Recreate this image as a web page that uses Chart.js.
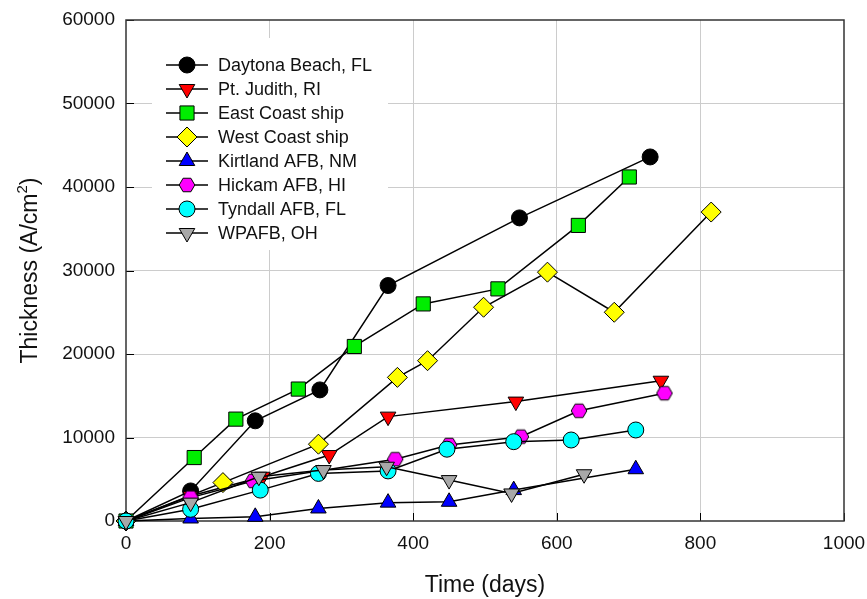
<!DOCTYPE html>
<html>
<head>
<meta charset="utf-8">
<script src="https://cdn.jsdelivr.net/npm/chart.js@4/dist/chart.umd.min.js"></script>
<style>
  body { margin: 0; background: #fff; }
</style>
</head>
<body>
<canvas id="grafico" width="867" height="599"></canvas>
<script>
// series names (legend order)
const nombres = ['Daytona Beach, FL', 'Pt. Judith, RI', 'East Coast ship', 'West Coast ship',
                 'Kirtland AFB, NM', 'Hickam AFB, HI', 'Tyndall AFB, FL', 'WPAFB, OH'];

// time (days) / thickness (A/cm2) per site
const daytonaX  = [0, 90, 180, 270, 365, 548, 730];
const daytonaY  = [0, 3600, 12000, 15700, 28200, 36300, 43600];
const judithX   = [0, 90, 190, 283, 365, 543, 745];
const judithY   = [0, 3000, 5300, 7900, 12500, 14300, 16800];
const eastX     = [0, 95, 153, 240, 318, 414, 518, 630, 701];
const eastY     = [0, 7600, 12200, 15800, 20900, 26000, 27800, 35400, 41200];
const westX     = [0, 135, 268, 378, 420, 498, 587, 680, 815];
const westY     = [0, 4600, 9200, 17200, 19200, 25600, 29800, 25000, 37000];
const kirtlandX = [0, 90, 180, 268, 365, 450, 540, 710];
const kirtlandY = [0, 300, 500, 1500, 2200, 2300, 3700, 6200];
const hickamX   = [0, 90, 177, 375, 450, 550, 631, 750];
const hickamY   = [0, 2800, 4800, 7400, 9100, 10100, 13200, 15300];
const tyndallX  = [0, 90, 187, 268, 365, 447, 540, 620, 710];
const tyndallY  = [0, 1400, 3700, 5700, 6000, 8600, 9500, 9700, 10900];
const wpafbX    = [0, 90, 185, 275, 363, 450, 537, 638];
const wpafbY    = [0, 2200, 5300, 6100, 6500, 4900, 3300, 5600];

const xTicks = [0, 200, 400, 600, 800, 1000];
const yTicks = [0, 10000, 20000, 30000, 40000, 50000, 60000];

const fuente = "'Liberation Sans', Arial, sans-serif";
const colorTexto = '#111';

// hexagon marker (no built-in one)
const hexagono = document.createElement('canvas');
hexagono.width = 18;
hexagono.height = 18;
(function () {
    const c = hexagono.getContext('2d');
    c.beginPath();
    for (let k = 0; k < 6; k++) {
        const a = k * Math.PI / 3;
        const px = 9 + 7.8 * Math.cos(a);
        const py = 9 + 7.8 * Math.sin(a);
        if (k === 0) c.moveTo(px, py); else c.lineTo(px, py);
    }
    c.closePath();
    c.fillStyle = '#ff00ff';
    c.fill();
    c.lineWidth = 1;
    c.strokeStyle = '#000';
    c.stroke();
})();

const pares = (xs, ys) => xs.map((x, i) => ({ x: x, y: ys[i] }));

const series = [
    { datos: pares(daytonaX, daytonaY),   color: '#000000', estilo: 'circle',   radio: 8,   rot: 0 },
    { datos: pares(judithX, judithY),     color: '#ff0000', estilo: 'triangle', radio: 9,   rot: 180 },
    { datos: pares(eastX, eastY),         color: '#00ee00', estilo: 'rect',     radio: 10,  rot: 0 },
    { datos: pares(westX, westY),         color: '#ffff00', estilo: 'rectRot',  radio: 10,  rot: 0 },
    { datos: pares(kirtlandX, kirtlandY), color: '#0000ff', estilo: 'triangle', radio: 9,   rot: 0 },
    { datos: pares(hickamX, hickamY),     color: '#ff00ff', estilo: hexagono,   radio: 8,   rot: 0 },
    { datos: pares(tyndallX, tyndallY),   color: '#00ffff', estilo: 'circle',   radio: 8,   rot: 0 },
    { datos: pares(wpafbX, wpafbY),       color: '#a8a8a8', estilo: 'triangle', radio: 9,   rot: 180 }
];

const datasets = series.map((s, i) => ({
    label: nombres[i],
    data: s.datos,
    borderColor: '#000',
    borderWidth: 1.5,
    pointStyle: s.estilo,
    pointRotation: s.rot,
    pointRadius: s.radio,
    pointHoverRadius: s.radio,
    pointBackgroundColor: s.color,
    pointBorderColor: '#000',
    pointBorderWidth: 1,
    showLine: true,
    tension: 0,
    clip: false,
    order: nombres.length - 1 - i
}));

// frame, inner ticks, y title and legend box
const extras = {
    id: 'extras',
    beforeDatasetsDraw(chart) {
        const ctx = chart.ctx;
        const a = chart.chartArea;
        const sx = chart.scales.x;
        const sy = chart.scales.y;
        ctx.save();
        ctx.strokeStyle = '#000';
        ctx.lineWidth = 1;
        xTicks.forEach(v => {
            const px = Math.round(sx.getPixelForValue(v)) + 0.5;
            ctx.beginPath();
            ctx.moveTo(px, a.bottom);
            ctx.lineTo(px, a.bottom - 8);
            ctx.stroke();
        });
        yTicks.forEach(v => {
            const py = Math.round(sy.getPixelForValue(v)) + 0.5;
            ctx.beginPath();
            ctx.moveTo(a.left, py);
            ctx.lineTo(a.left + 8, py);
            ctx.stroke();
        });
        ctx.strokeStyle = '#333';
        ctx.lineWidth = 1.5;
        ctx.strokeRect(a.left, a.top, a.right - a.left, a.bottom - a.top);
        ctx.restore();
    },
    afterDraw(chart) {
        const ctx = chart.ctx;
        const a = chart.chartArea;
        ctx.save();

        // y axis title with superscript
        const cy = (a.top + a.bottom) / 2;
        ctx.translate(37, cy);
        ctx.rotate(-Math.PI / 2);
        ctx.fillStyle = colorTexto;
        ctx.textBaseline = 'alphabetic';
        ctx.textAlign = 'left';
        const t1 = 'Thickness (A/cm';
        const t2 = '2';
        const t3 = ')';
        ctx.font = '23px ' + fuente;
        const w1 = ctx.measureText(t1).width;
        const w3 = ctx.measureText(t3).width;
        ctx.font = '15px ' + fuente;
        const w2 = ctx.measureText(t2).width;
        let x0 = -(w1 + w2 + w3) / 2;
        ctx.font = '23px ' + fuente;
        ctx.fillText(t1, x0, 0);
        ctx.font = '15px ' + fuente;
        ctx.fillText(t2, x0 + w1, -10);
        ctx.font = '23px ' + fuente;
        ctx.fillText(t3, x0 + w1 + w2, 0);
        ctx.restore();

        // legend
        ctx.save();
        ctx.fillStyle = '#fff';
        ctx.fillRect(152, 38, 236, 212);
        chart.data.datasets.forEach((ds, i) => {
            const y = 65 + i * 24;
            ctx.strokeStyle = '#000';
            ctx.lineWidth = 1.5;
            ctx.beginPath();
            ctx.moveTo(166, y);
            ctx.lineTo(208, y);
            ctx.stroke();
            ctx.fillStyle = ds.pointBackgroundColor;
            ctx.strokeStyle = '#000';
            ctx.lineWidth = 1;
            Chart.helpers.drawPoint(ctx, {
                pointStyle: ds.pointStyle,
                rotation: ds.pointRotation,
                radius: ds.pointRadius,
                borderWidth: 1
            }, 187, y);
            ctx.fillStyle = colorTexto;
            ctx.font = '18px ' + fuente;
            ctx.textBaseline = 'middle';
            ctx.textAlign = 'left';
            ctx.fillText(ds.label, 218, y + 1);
        });
        ctx.restore();
    }
};

const ctx = document.getElementById('grafico').getContext('2d');

const myChart = new Chart(ctx, {
    type: 'scatter',
    data: { datasets: datasets },
    options: {
        responsive: false,
        animation: false,
        devicePixelRatio: 1,
        layout: { padding: { left: 0, right: 23, top: 20, bottom: 0 } },
        plugins: {
            legend: { display: false },
            tooltip: { enabled: false }
        },
        scales: {
            x: {
                type: 'linear',
                min: 0,
                max: 1000,
                afterFit: s => { s.height = 78; s.paddingLeft = 0; s.paddingRight = 0; },
                afterBuildTicks: s => { s.ticks = xTicks.map(v => ({ value: v })); },
                grid: {
                    drawTicks: false,
                    color: c => (c.tick && (c.tick.value === 0 || c.tick.value === 1000)) ? 'rgba(0,0,0,0)' : '#cccccc',
                    lineWidth: 1
                },
                border: { display: false },
                ticks: {
                    padding: 11,
                    color: colorTexto,
                    font: { family: fuente, size: 19 },
                    maxRotation: 0,
                    callback: v => String(v)
                },
                title: {
                    display: true,
                    text: 'Time (days)',
                    color: colorTexto,
                    font: { family: fuente, size: 23 },
                    padding: { top: 0, bottom: 0 }
                }
            },
            y: {
                type: 'linear',
                min: 0,
                max: 60000,
                afterFit: s => { s.width = 126; s.paddingTop = 0; s.paddingBottom = 0; },
                afterBuildTicks: s => { s.ticks = yTicks.map(v => ({ value: v })); },
                grid: {
                    drawTicks: false,
                    color: c => (c.tick && (c.tick.value === 0 || c.tick.value === 60000)) ? 'rgba(0,0,0,0)' : '#cccccc',
                    lineWidth: 1
                },
                border: { display: false },
                ticks: {
                    padding: 11,
                    color: colorTexto,
                    font: { family: fuente, size: 19 },
                    callback: v => String(v)
                }
            }
        }
    },
    plugins: [extras]
});
</script>
</body>
</html>
